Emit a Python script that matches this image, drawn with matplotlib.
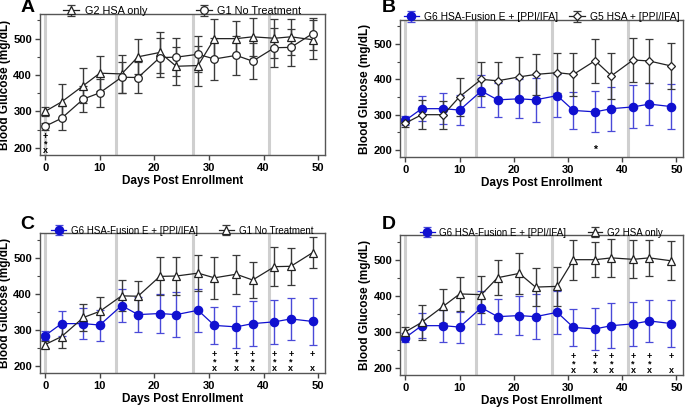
import numpy as np
import matplotlib
matplotlib.use('Agg')
import matplotlib.pyplot as plt
from matplotlib.ticker import MultipleLocator

plt.rcParams['font.family'] = ['Liberation Sans', 'DejaVu Sans']

# Days of measurement
days = [0, 3, 7, 10, 14, 17, 21, 24, 28, 31, 35, 38, 42, 45, 49]

# G1 No Treatment
g1_mean = [259, 281, 334, 351, 394, 393, 448, 449, 457, 444, 454, 438, 475, 476, 514]
g1_sd = [10, 33, 37, 39, 43, 43, 53, 53, 50, 58, 54, 50, 54, 51, 44]

# G2 HSA only
g2_mean = [300, 326, 371, 405, 403, 450, 462, 424, 426, 500, 500, 505, 501, 505, 497]
g2_sd = [13, 48, 47, 48, 52, 48, 56, 52, 55, 55, 48, 52, 53, 50, 54]

# G5 HSA + [PPI/IFA]
g5_mean = [276, 300, 300, 351, 400, 396, 407, 414, 419, 414, 453, 410, 455, 452, 438]
g5_sd = [10, 41, 40, 54, 48, 53, 56, 59, 57, 61, 62, 65, 62, 63, 64]

# G6 HSA-Fusion E + [PPI/IFA]
g6_mean = [284, 317, 317, 313, 367, 342, 345, 342, 354, 312, 308, 317, 322, 330, 323]
g6_sd = [13, 35, 44, 43, 46, 48, 55, 62, 60, 52, 58, 62, 61, 59, 64]

# treatment days (grey vertical lines)
dose_days = [0, 13, 27, 41]

# significance marks (stacked symbols under the points)
sig_cd_days = [31, 35, 38, 42, 45, 49]
sig_cd_text = ['+\n*\nx', '+\n*\nx', '+\n*\nx', '+\n*\nx', '+\n*\nx', '+\n \nx']
sig_a_text = '+\n*\nx'

BLUE = '#1010d0'
BLUE_ERR = '#4a4ad8'
BLACK = '#222222'
BLACK_ERR = '#3a3a3a'

styles = {
    'G1 No Treatment': dict(color=BLACK, mfc='white', mec=BLACK, ecolor=BLACK_ERR, ms=5.5),
    'G2 HSA only': dict(color=BLACK, mfc='white', mec=BLACK, ecolor=BLACK_ERR, ms=5.5),
    'G5 HSA + [PPI/IFA]': dict(color=BLACK, mfc='white', mec=BLACK, ecolor=BLACK_ERR, ms=4.5),
    'G6 HSA-Fusion E + [PPI/IFA]': dict(color=BLUE, mfc=BLUE, mec=BLUE, ecolor=BLUE_ERR, ms=6),
}


def plot_series(ax, mean, sd, label, marker):
    st = styles[label]
    ax.errorbar(days, mean, yerr=sd, color=st['color'], ecolor=st['ecolor'],
                marker=marker, mfc=st['mfc'], mec=st['mec'], ms=st['ms'],
                lw=0.9, elinewidth=1.0, capsize=3.2, capthick=1.0,
                mew=0.9, label=label)


def setup_axes(ax):
    for d in dose_days:
        ax.axvline(d, color='#cfcfcf', lw=2.2, zorder=0)
    ax.set_xlim(-1, 51.2)
    ax.set_ylim(180, 568)
    ax.xaxis.set_major_locator(MultipleLocator(10))
    ax.yaxis.set_major_locator(MultipleLocator(100))
    ax.yaxis.set_minor_locator(MultipleLocator(50))
    ax.tick_params(axis='both', which='major', labelsize=8, length=3.5,
                   width=1, direction='out', color='#444444', pad=2)
    ax.tick_params(axis='y', which='minor', length=2, width=0.8, color='#444444')
    for lab in ax.get_xticklabels() + ax.get_yticklabels():
        lab.set_fontweight('bold')
    for s in ax.spines.values():
        s.set_color('#555555')
        s.set_linewidth(1.0)
    ax.set_xlabel('Days Post Enrollment', fontsize=8.5, fontweight='bold', labelpad=2)
    ax.set_ylabel('Blood Glucose (mg/dL)', fontsize=8.5, fontweight='bold', labelpad=2)


def add_legend(ax, fs, spacing):
    ax.legend(loc='lower center', bbox_to_anchor=(0.5, 0.955), ncol=2, frameon=False,
              fontsize=fs, handlelength=1.5, columnspacing=spacing, handletextpad=0.5,
              borderaxespad=0.0)


def add_marks(ax, x, txt):
    ax.text(x, 211, txt, ha='center', va='center', fontsize=6.5, fontweight='bold',
            linespacing=0.72)


fig = plt.figure(figsize=(6.85, 4.09), dpi=100)

axA = fig.add_axes([0.058, 0.621, 0.416, 0.345])
axB = fig.add_axes([0.584, 0.616, 0.413, 0.335])
axC = fig.add_axes([0.058, 0.088, 0.416, 0.342])
axD = fig.add_axes([0.584, 0.083, 0.413, 0.342])

# A
setup_axes(axA)
plot_series(axA, g2_mean, g2_sd, 'G2 HSA only', '^')
plot_series(axA, g1_mean, g1_sd, 'G1 No Treatment', 'o')
add_legend(axA, 7.8, 4.5)
add_marks(axA, 0, sig_a_text)

# B
setup_axes(axB)
plot_series(axB, g6_mean, g6_sd, 'G6 HSA-Fusion E + [PPI/IFA]', 'o')
plot_series(axB, g5_mean, g5_sd, 'G5 HSA + [PPI/IFA]', 'D')
add_legend(axB, 7.4, 1.1)
axB.text(35, 200, '*', ha='center', va='center', fontsize=7.5, fontweight='bold')

# C
setup_axes(axC)
plot_series(axC, g6_mean, g6_sd, 'G6 HSA-Fusion E + [PPI/IFA]', 'o')
plot_series(axC, g1_mean, g1_sd, 'G1 No Treatment', '^')
add_legend(axC, 7, 2.2)

# D
setup_axes(axD)
plot_series(axD, g6_mean, g6_sd, 'G6 HSA-Fusion E + [PPI/IFA]', 'o')
plot_series(axD, g2_mean, g2_sd, 'G2 HSA only', '^')
add_legend(axD, 7, 2.2)

for ax in (axC, axD):
    for d, txt in zip(sig_cd_days, sig_cd_text):
        add_marks(ax, d, txt)

# panel letters
for x, y, t in [(0.03, 0.982, 'A'), (0.557, 0.982, 'B'), (0.03, 0.45, 'C'), (0.557, 0.45, 'D')]:
    fig.text(x, y, t, fontsize=14, fontweight='bold', ha='left', va='center')

fig.savefig('out.png', dpi=100)
